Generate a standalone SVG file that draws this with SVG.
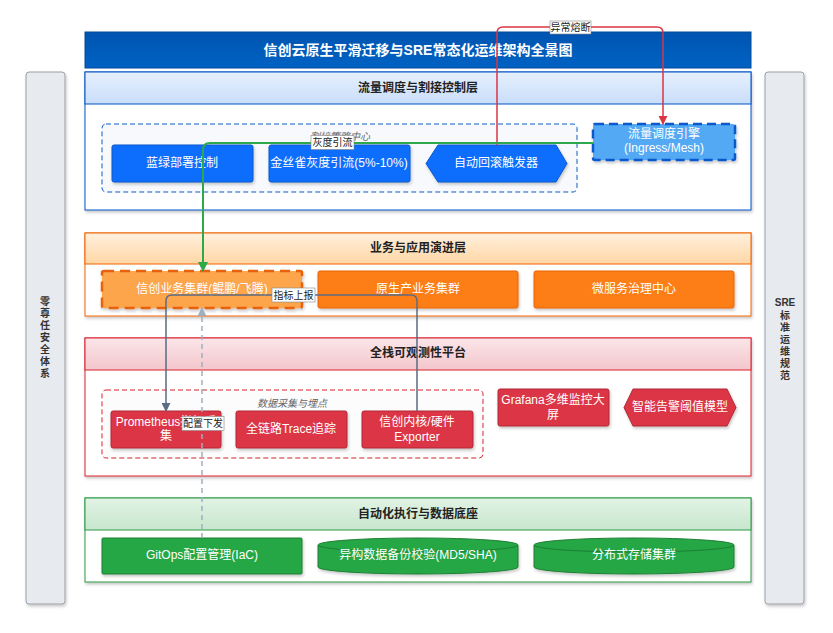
<svg xmlns="http://www.w3.org/2000/svg" width="833" height="633" viewBox="0 0 833 633">
<defs>
<style>
text{font-family:"Liberation Sans","Noto Sans CJK SC",sans-serif}
.t{fill:#fff;font-size:12px;text-anchor:middle;dominant-baseline:central}
.h{fill:#222;font-size:12px;font-weight:bold;text-anchor:middle;dominant-baseline:central}
.side{fill:#e7eaee;stroke:#9aa0a6;stroke-width:1}
.sidet{fill:#333;font-size:10px;font-weight:bold;text-anchor:middle;dominant-baseline:central}
.body{fill:#fff;stroke-width:1}
.glab{fill:#666;font-size:10px;font-style:italic;text-anchor:middle;dominant-baseline:central}
.lbl{fill:#fff;stroke:#888;stroke-width:0.6}
.lt{fill:#222;font-size:10px;text-anchor:middle;dominant-baseline:central}
.blue{fill:#0d6efd;stroke:#0a58ca;stroke-width:1}
.orange{fill:#fd7e14;stroke:#e8620a;stroke-width:1}
.red{fill:#dc3545;stroke:#b02a37;stroke-width:1}
.green{fill:#28a745;stroke:#1e7e34;stroke-width:1}
</style>
<linearGradient id="g0" x1="0" y1="0" x2="0" y2="1"><stop offset="0" stop-color="#0055b0"/><stop offset="1" stop-color="#0062c4"/></linearGradient>
<linearGradient id="g1" x1="0" y1="0" x2="0" y2="1"><stop offset="0" stop-color="#e6f0fd"/><stop offset="1" stop-color="#c9ddfa"/></linearGradient>
<linearGradient id="g2" x1="0" y1="0" x2="0" y2="1"><stop offset="0" stop-color="#fff1de"/><stop offset="1" stop-color="#ffd6a5"/></linearGradient>
<linearGradient id="g3" x1="0" y1="0" x2="0" y2="1"><stop offset="0" stop-color="#fbe6e9"/><stop offset="1" stop-color="#f3c6cc"/></linearGradient>
<linearGradient id="g4" x1="0" y1="0" x2="0" y2="1"><stop offset="0" stop-color="#e2f3e5"/><stop offset="1" stop-color="#c7e7cd"/></linearGradient>
<filter id="sh" x="-10%" y="-20%" width="120%" height="150%"><feDropShadow dx="1" dy="2" stdDeviation="1.5" flood-color="#000" flood-opacity="0.22"/></filter>
<marker id="aR" viewBox="0 0 10 10" refX="9" refY="5" markerWidth="9" markerHeight="9" orient="auto" markerUnits="userSpaceOnUse"><path d="M0,0 L10,5 L0,10 z" fill="#dc3545"/></marker>
<marker id="aG" viewBox="0 0 10 10" refX="9" refY="5" markerWidth="10" markerHeight="10" orient="auto" markerUnits="userSpaceOnUse"><path d="M0,0 L10,5 L0,10 z" fill="#2ea84a"/></marker>
<marker id="aS" viewBox="0 0 10 10" refX="9" refY="5" markerWidth="9" markerHeight="9" orient="auto" markerUnits="userSpaceOnUse"><path d="M0,0 L10,5 L0,10 z" fill="#5b6b82"/></marker>
<marker id="aL" viewBox="0 0 10 10" refX="9" refY="5" markerWidth="9" markerHeight="9" orient="auto" markerUnits="userSpaceOnUse"><path d="M0,0 L10,5 L0,10 z" fill="#a0aec0"/></marker>
</defs>
<rect width="833" height="633" fill="#fff"/>

<g id="title">
<rect x="85" y="32" width="666" height="36" fill="url(#g0)" stroke="#004a99" stroke-width="1"/>
<text x="418" y="50" fill="#fff" font-size="14" font-weight="bold" text-anchor="middle" dominant-baseline="central">信创云原生平滑迁移与SRE常态化运维架构全景图</text>
</g>

<g id="side-left">
<rect class="side" x="26" y="72" width="39" height="532" rx="3" filter="url(#sh)"/>
<text class="sidet" x="45" y="301">零</text>
<text class="sidet" x="45" y="313">尊</text>
<text class="sidet" x="45" y="325">任</text>
<text class="sidet" x="45" y="337">安</text>
<text class="sidet" x="45" y="349">全</text>
<text class="sidet" x="45" y="361">体</text>
<text class="sidet" x="45" y="373">系</text>
</g>
<g id="side-right">
<rect class="side" x="765" y="72" width="39" height="532" rx="3" filter="url(#sh)"/>
<text class="sidet" x="785" y="302">SRE</text>
<text class="sidet" x="785" y="315">标</text>
<text class="sidet" x="785" y="327">准</text>
<text class="sidet" x="785" y="339">运</text>
<text class="sidet" x="785" y="351">维</text>
<text class="sidet" x="785" y="363">规</text>
<text class="sidet" x="785" y="375">范</text>
</g>

<g id="layer-traffic">
<rect class="body" x="85" y="72" width="666" height="138" stroke="#0055c4" filter="url(#sh)"/>
<rect x="85" y="72" width="666" height="32" fill="url(#g1)" stroke="#0055c4" stroke-width="1"/>
<text class="h" x="418" y="88">流量调度与割接控制层</text>
</g>
<g id="group-cutover">
<rect x="102" y="124" width="475" height="68" rx="4" fill="#f7f9fc" stroke="#0a5cc4" stroke-width="1" stroke-dasharray="5,3"/>
<text class="glab" x="340" y="136">割接策略中心</text>
</g>
<g id="n-bluegreen"><rect class="blue" x="112" y="145" width="141" height="37" rx="2" filter="url(#sh)"/><text class="t" x="182" y="163">蓝绿部署控制</text></g>
<g id="n-canary"><rect class="blue" x="269" y="145" width="141" height="37" rx="2" filter="url(#sh)"/><text class="t" x="339" y="163">金丝雀灰度引流(5%-10%)</text></g>
<g id="n-rollback"><polygon class="blue" points="426,163.5 438,145 556,145 567,163.5 556,182 438,182" filter="url(#sh)"/><text class="t" x="496" y="163">自动回滚触发器</text></g>
<g id="n-engine"><rect x="593" y="124" width="142" height="36" rx="2" fill="#52a9f4" stroke="#0a58ca" stroke-width="2.5" stroke-dasharray="9,5" filter="url(#sh)"/><text class="t" x="664" y="134">流量调度引擎</text><text class="t" x="664" y="148">(Ingress/Mesh)</text></g>

<g id="layer-biz">
<rect class="body" x="85" y="233" width="666" height="83" stroke="#f06400" filter="url(#sh)"/>
<rect x="85" y="233" width="666" height="31" fill="url(#g2)" stroke="#f06400" stroke-width="1"/>
<text class="h" x="418" y="248">业务与应用演进层</text>
</g>
<g id="n-xc-cluster"><rect x="102" y="271" width="200" height="37" rx="2" fill="#fda54c" stroke="#e8620a" stroke-width="2.5" stroke-dasharray="10,6" filter="url(#sh)"/><text class="t" x="202" y="289">信创业务集群(鲲鹏/飞腾)</text></g>
<g id="n-orig-cluster"><rect class="orange" x="318" y="271" width="200" height="37" rx="2" filter="url(#sh)"/><text class="t" x="418" y="289">原生产业务集群</text></g>
<g id="n-mesh-gov"><rect class="orange" x="534" y="271" width="200" height="37" rx="2" filter="url(#sh)"/><text class="t" x="634" y="289">微服务治理中心</text></g>

<g id="layer-obs">
<rect class="body" x="85" y="338" width="666" height="138" stroke="#d9232e" filter="url(#sh)"/>
<rect x="85" y="338" width="666" height="32" fill="url(#g3)" stroke="#d9232e" stroke-width="1"/>
<text class="h" x="418" y="353">全栈可观测性平台</text>
</g>
<g id="group-collect">
<rect x="102" y="390" width="381" height="68" rx="4" fill="#fcfcfd" stroke="#d9232e" stroke-width="1" stroke-dasharray="5,3"/>
<text class="glab" x="292" y="403">数据采集与埋点</text>
</g>
<g id="n-prom"><rect class="red" x="111" y="411" width="110" height="37" rx="2" filter="url(#sh)"/><text class="t" x="166" y="422">Prometheus指标采</text><text class="t" x="166" y="436">集</text></g>
<g id="n-trace"><rect class="red" x="236" y="411" width="111" height="37" rx="2" filter="url(#sh)"/><text class="t" x="291" y="429">全链路Trace追踪</text></g>
<g id="n-exporter"><rect class="red" x="362" y="411" width="111" height="37" rx="2" filter="url(#sh)"/><text class="t" x="417" y="422">信创内核/硬件</text><text class="t" x="417" y="437">Exporter</text></g>
<g id="n-grafana"><rect class="red" x="498" y="389" width="111" height="37" rx="2" filter="url(#sh)"/><text class="t" x="553" y="400">Grafana多维监控大</text><text class="t" x="553" y="415">屏</text></g>
<g id="n-alert"><polygon class="red" points="624,407.5 633,389 727,389 736,407.5 727,426 633,426" filter="url(#sh)"/><text class="t" x="680" y="407">智能告警阈值模型</text></g>

<g id="layer-auto">
<rect class="body" x="85" y="498" width="666" height="84" stroke="#2a9a44" filter="url(#sh)"/>
<rect x="85" y="498" width="666" height="32" fill="url(#g4)" stroke="#2a9a44" stroke-width="1"/>
<text class="h" x="418" y="514">自动化执行与数据底座</text>
</g>
<g id="n-gitops"><rect class="green" x="102" y="538" width="200" height="36" rx="1" filter="url(#sh)"/><text class="t" x="202" y="555">GitOps配置管理(IaC)</text></g>
<g id="n-backup"><path class="green" d="M318,545 A100,7 0 0 1 518,545 L518,567 A100,7 0 0 1 318,567 Z" filter="url(#sh)"/><path d="M318,545 A100,7 0 0 0 518,545" fill="none" stroke="#1e7e34" stroke-width="1"/><text class="t" x="418" y="555">异构数据备份校验(MD5/SHA)</text></g>
<g id="n-storage"><path class="green" d="M534,545 A100,7 0 0 1 734,545 L734,567 A100,7 0 0 1 534,567 Z" filter="url(#sh)"/><path d="M534,545 A100,7 0 0 0 734,545" fill="none" stroke="#1e7e34" stroke-width="1"/><text class="t" x="634" y="555">分布式存储集群</text></g>

<g id="connectors" fill="none">
<path d="M497,145 L497,33 Q497,27 503,27 L657,27 Q663,27 663,33 L663,124" stroke="#dc3545" stroke-width="1.5" marker-end="url(#aR)"/>
<rect class="lbl" x="550" y="21" width="41" height="13"/><text class="lt" x="570.5" y="27.5">异常熔断</text>
<path d="M593,143 L210,143 Q203,143 203,150 L203,271" stroke="#2ea84a" stroke-width="2" marker-end="url(#aG)"/>
<rect class="lbl" x="311" y="135.5" width="43" height="14"/><text class="lt" x="332.5" y="142.5">灰度引流</text>
<path d="M417,411 L417,301 Q417,295 411,295 L172,295 Q166,295 166,301 L166,411" stroke="#5b6b82" stroke-width="1.5" marker-end="url(#aS)"/>
<rect class="lbl" x="272" y="288" width="43" height="14"/><text class="lt" x="293.5" y="295">指标上报</text>
<path d="M202,538 L202,308" stroke="#a0aec0" stroke-width="1.5" stroke-dasharray="5,4" marker-end="url(#aL)"/>
<rect class="lbl" x="182" y="416.5" width="42" height="14"/><text class="lt" x="203" y="423.5">配置下发</text>
</g>
</svg>
